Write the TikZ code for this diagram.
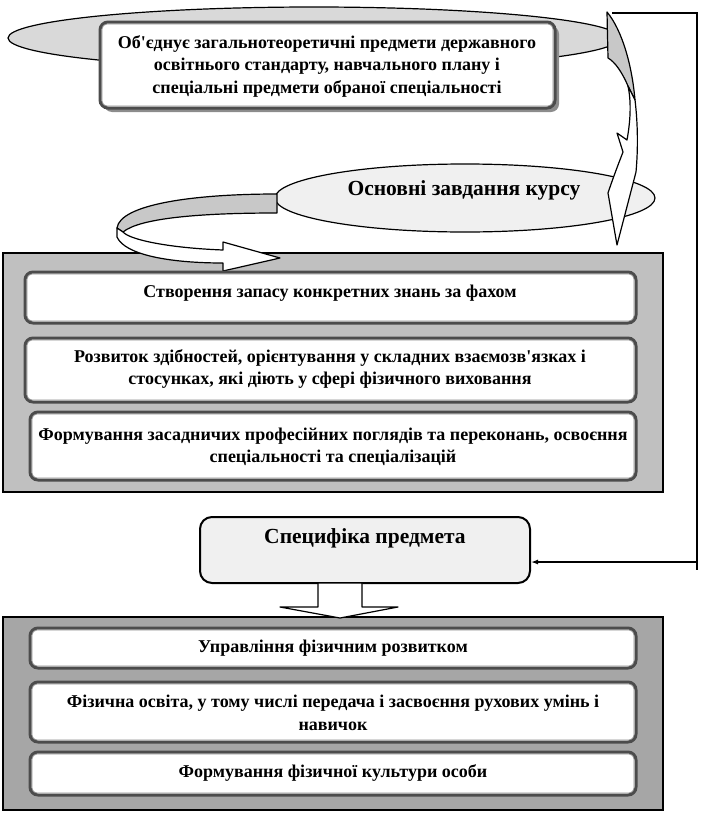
\documentclass[tikz,border=0pt]{standalone}
\usepackage{fontspec}
\setmainfont{Liberation Serif}
\usetikzlibrary{shapes.geometric,arrows.meta}
\definecolor{pmid}{RGB}{192,192,192}
\definecolor{plow}{RGB}{166,166,166}
\definecolor{elltop}{RGB}{217,217,217}
\definecolor{ellmid}{RGB}{240,240,240}
\definecolor{bandg}{RGB}{200,200,200}
\newcommand\mybox[5]{%
  \node[tb, minimum width={(#4-#2)*1pt}, minimum height={(#5-#3)*1pt}] (#1) at ({(#2+#4)/2},{(#3+#5)/2}) {};
  \draw[inr] ([shift={(3.5,3.5)}]#1.north west) rectangle ([shift={(-3.5,-3.5)}]#1.south east);}
\begin{document}
\begin{tikzpicture}[x=1pt,y=-1pt,
  txt/.style={font=\bfseries\fontsize{18}{22.5}\selectfont, align=center, inner sep=0pt},
  big/.style={font=\bfseries\fontsize{21.5}{24}\selectfont, align=center, inner sep=0pt},
  tb/.style={draw=black!70, line width=3pt, fill=white, rounded corners=8pt, inner sep=0pt},
  inr/.style={draw=black!45, line width=0.7pt, rounded corners=5pt},
  panel/.style={draw=black, line width=1.2pt, inner sep=0pt},
  outl/.style={draw=black, line width=1.2pt, line join=round}]
\useasboundingbox (0,0) rectangle (706,814);

% top ellipse and box
\node[ellipse, draw=black, line width=1.2pt, fill=elltop, minimum width=612pt, minimum height=62pt, inner sep=0pt] (e1) at (314,38) {};
\fill[black!45, rounded corners=8pt] (104,26) rectangle (559,112);
\mybox{top}{100}{22}{555}{108}
\node[txt] (ttop) at (327,66) {Об\textquotesingle єднує загальнотеоретичні предмети державного\\освітнього стандарту, навчального плану і\\спеціальні предмети обраної спеціальності};

% right connector line
\coordinate (r0) at (612,13);
\coordinate (r1) at (697,13);
\coordinate (r2) at (697,570);
\coordinate (r3) at (697,562);
\draw[line width=1.3pt] (r0) -- (r1) -- (r2);

% second ellipse
\node[ellipse, draw=black, line width=1.2pt, fill=ellmid, minimum width=380pt, minimum height=68pt, inner sep=0pt] (e2) at (465,198) {};
\node[big] (te2) at (464,190) {Основні завдання курсу};

% middle panel
\node[panel, fill=pmid, minimum width=660pt, minimum height=239pt] (p1) at (333,372.5) {};

% left curved arrow
\draw[outl, fill=bandg] (277,194) .. controls (190,194) and (120,205) .. (117,228)
  -- (123,232) .. controls (140,218) and (200,213) .. (277,213) -- cycle;
\draw[outl, fill=white] (117,228) -- (117,237) .. controls (125,255) and (170,263) .. (223,263)
  -- (223,271) -- (280,258) -- (223,242) -- (223,250) .. controls (170,248) and (130,240) .. (123,232) -- cycle;

% right curved arrow
\draw[outl, fill=bandg] (607,12) .. controls (622,30) and (632,65) .. (635,100)
  -- (628,86) .. controls (622,72) and (615,62) .. (608,58) -- cycle;
\draw[outl, fill=white] (628,86) -- (635,100) .. controls (638,125) and (638,150) .. (636,172)
  -- (617,245) -- (608,193) .. controls (613,178) and (618,165) .. (623,152)
  -- (617,133) -- (627,140) .. controls (631,118) and (631,100) .. (628,86) -- cycle;

% middle boxes
\mybox{b1}{25}{272}{636}{323}
\node[txt] (tb1) at (330,293) {Створення запасу конкретних знань за фахом};
\mybox{b2}{25}{338}{636}{402}
\node[txt] (tb2) at (330,369) {Розвиток здібностей, орієнтування у складних взаємозв\textquotesingle язках і\\стосунках, які діють у сфері фізичного виховання};
\mybox{b3}{30}{412}{636}{480}
\node[txt] (tb3) at (333,447) {Формування засадничих професійних поглядів та переконань, освоєння\\спеціальності та спеціалізацій};

% specifics box
\node[draw=black, line width=2pt, fill=ellmid, rounded corners=12pt, minimum width=330pt, minimum height=66pt, inner sep=0pt] (spec) at (365,550) {};
\node[big] (tspec) at (365,538) {Специфіка предмета};
\draw[line width=1.3pt, -{Latex[length=7pt,width=5pt]}] (r3) -- ([shift={(0,12)}]spec.east);

% lower panel
\node[panel, fill=plow, minimum width=660pt, minimum height=193pt] (p2) at (333,713.5) {};

% down block arrow
\draw[outl, fill=white] (318,583) -- (362,583) -- (362,607) -- (398,607) -- (340,618) -- (280,607) -- (318,607) -- cycle;

% lower boxes
\mybox{b4}{30}{628}{636}{668}
\node[txt] (tb4) at (333,648) {Управління фізичним розвитком};
\mybox{b5}{30}{682}{636}{742}
\node[txt] (tb5) at (333,713) {Фізична освіта, у тому числі передача і засвоєння рухових умінь і\\навичок};
\mybox{b6}{30}{752}{636}{795}
\node[txt] (tb6) at (333,773) {Формування фізичної культури особи};
\end{tikzpicture}
\end{document}
